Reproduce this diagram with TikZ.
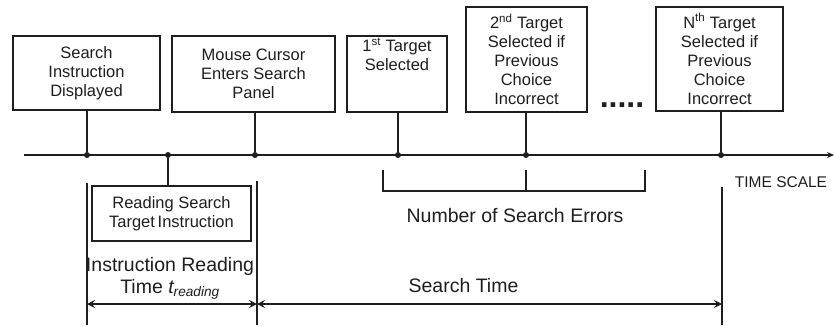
\documentclass[tikz,border=0pt]{standalone}
\usepackage{fontspec}
\setmainfont{Liberation Sans}
\usepackage{tikz}
\usetikzlibrary{arrows.meta,positioning,calc}
\definecolor{ink}{HTML}{1E1E1E}
\tikzset{event/.style={draw=ink,line width=1.2pt,align=center,inner sep=2pt,
  font=\fontsize{16.5}{19}\selectfont,text=ink},
  tick/.style={circle,fill=ink,inner sep=0pt,minimum size=6pt},
  span/.style={{Stealth[length=8pt,width=8pt,inset=3pt]}-{Stealth[length=8pt,width=8pt,inset=3pt]},line width=1.3pt,draw=ink},
  lbl/.style={font=\fontsize{19.5}{22}\selectfont,text=ink,align=center}}

\begin{document}
\begin{tikzpicture}[x=1pt,y=-1pt]
\useasboundingbox (0,0) rectangle (835,325);
% events above the time axis
\node[event,minimum width=147pt,minimum height=74pt] (shown) at (86.5,73) {Search\\Instruction\\Displayed};
\node[event,minimum width=163pt,minimum height=76pt] (enter) at (253.5,74) {Mouse Cursor\\Enters Search\\Panel};
\node[event,minimum width=100pt,minimum height=76pt] (first) at (397,74) {};
\node[event,draw=none,anchor=north] (firsttxt) at (first.north) {1\textsuperscript{st} Target\\Selected};
\node[event,minimum width=121pt,minimum height=105pt] (second) at (526.5,59.5) {2\textsuperscript{nd} Target\\Selected if\\Previous\\Choice\\Incorrect};
\node[event,minimum width=127pt,minimum height=104pt] (nth) at (719.5,59) {N\textsuperscript{th} Target\\Selected if\\Previous\\Choice\\Incorrect};
\node[font=\fontsize{32}{32}\selectfont\bfseries,text=ink,anchor=base,inner sep=0pt] (more) at (622,107) {.....};

% time axis
\coordinate (ax0) at (24,155);
\coordinate (ax1) at (834,155);
\draw[line width=1.4pt,draw=ink,-{Stealth[length=7pt,width=6pt]}] (ax0) -- (ax1);
\node[tick] (d1) at (87,155) {};
\node[tick] (d2) at (168,155) {};
\node[tick] (d3) at (255,155) {};
\node[tick] (d4) at (398,155) {};
\node[tick] (d5) at (526,155) {};
\node[tick] (d6) at (721,155) {};
\foreach \b/\d in {shown/d1,enter/d3,first/d4,second/d5,nth/d6}
  \draw[line width=1.3pt,draw=ink] (\d) -- (\d |- \b.south);
\node[font=\fontsize{15.5}{18}\selectfont,text=ink] (scale) at (781,182) {TIME SCALE};

% below the axis
\node[event,minimum width=159pt,minimum height=55pt] (read) at (171.5,213.5) {Reading Search\\Target\,Instruction};
\draw[line width=1.3pt,draw=ink] (d2) -- (d2 |- read.north);
\coordinate (e1) at (383,170);
\coordinate (e2) at (645,170);
\coordinate (e3) at (526,170);
\draw[line width=1.3pt,draw=ink] (e1) -- ++(0,21) -| (e2);
\draw[line width=1.3pt,draw=ink] (e3) -- ++(0,21);
\node[lbl] (errors) at (515,216) {Number of Search Errors};

% time spans
\coordinate (v1) at (87,183);
\coordinate (v2) at (257,181);
\coordinate (v3) at (722,187);
\foreach \v in {v1,v2,v3}
  \draw[line width=1.3pt,draw=ink] (\v) -- (\v |- 0,325);
\coordinate (s1) at (87,304);
\coordinate (s2) at (257,304);
\coordinate (s3) at (722,304);
\draw[span] (s1) -- (s2);
\draw[span] (s2) -- (s3);
\node[lbl] (treading) at (170,278) {Instruction Reading\\Time \textit{t\textsubscript{reading}}};
\node[lbl] (search) at (463.5,286) {Search Time};
\end{tikzpicture}
\end{document}
